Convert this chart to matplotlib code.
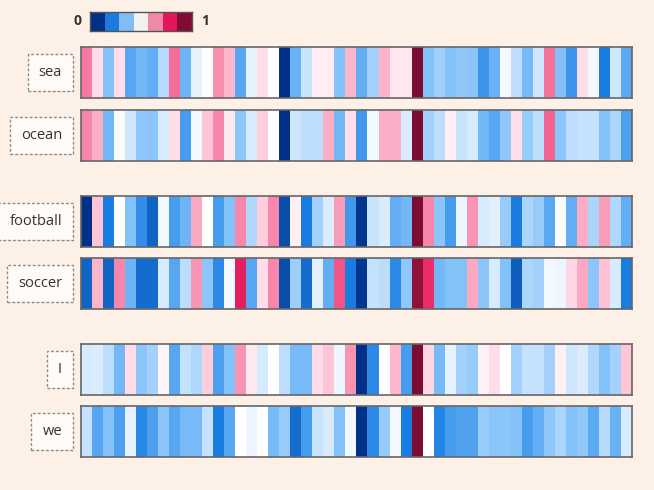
import numpy as np
import matplotlib
matplotlib.use("Agg")
import matplotlib.pyplot as plt
from matplotlib.colors import LinearSegmentedColormap, ListedColormap

# word vectors (50 dims, scaled 0..1)
words = ["sea", "ocean", "football", "soccer", "I", "we"]

sea = [0.78, 0.6, 0.3, 0.6, 0.22, 0.27, 0.24, 0.38, 0.8, 0.26,
       0.46, 0.5, 0.75, 0.68, 0.22, 0.46, 0.6, 0.5, 0.0, 0.25,
       0.41, 0.55, 0.55, 0.3, 0.69, 0.24, 0.35, 0.69, 0.57, 0.57,
       1.0, 0.3, 0.34, 0.3, 0.32, 0.31, 0.17, 0.25, 0.48, 0.39,
       0.28, 0.42, 0.79, 0.3, 0.17, 0.59, 0.48, 0.1, 0.42, 0.23]
ocean = [0.76, 0.7, 0.27, 0.49, 0.42, 0.32, 0.31, 0.43, 0.59, 0.19,
         0.48, 0.65, 0.76, 0.56, 0.31, 0.43, 0.63, 0.5, 0.0, 0.42,
         0.39, 0.39, 0.7, 0.27, 0.59, 0.18, 0.48, 0.7, 0.7, 0.44,
         1.0, 0.35, 0.39, 0.55, 0.41, 0.43, 0.27, 0.22, 0.32, 0.59,
         0.33, 0.39, 0.81, 0.31, 0.39, 0.4, 0.4, 0.3, 0.36, 0.2]
football = [0.0, 0.65, 0.1, 0.5, 0.3, 0.15, 0.07, 0.48, 0.19, 0.26,
            0.71, 0.5, 0.19, 0.3, 0.76, 0.37, 0.63, 0.76, 0.04, 0.54,
            0.1, 0.35, 0.44, 0.73, 0.18, 0.01, 0.41, 0.44, 0.24, 0.27,
            1.0, 0.76, 0.31, 0.19, 0.47, 0.74, 0.43, 0.45, 0.33, 0.1,
            0.36, 0.33, 0.23, 0.49, 0.24, 0.7, 0.36, 0.73, 0.37, 0.24]
soccer = [0.07, 0.69, 0.07, 0.76, 0.26, 0.08, 0.08, 0.43, 0.22, 0.39,
          0.74, 0.31, 0.14, 0.48, 0.9, 0.22, 0.59, 0.76, 0.04, 0.34,
          0.08, 0.45, 0.24, 0.83, 0.1, 0.01, 0.4, 0.39, 0.14, 0.32,
          0.98, 0.88, 0.27, 0.3, 0.3, 0.71, 0.31, 0.43, 0.3, 0.06,
          0.36, 0.35, 0.48, 0.47, 0.61, 0.71, 0.31, 0.66, 0.43, 0.1]
i_vec = [0.43, 0.44, 0.39, 0.27, 0.6, 0.31, 0.35, 0.53, 0.22, 0.4,
         0.37, 0.63, 0.2, 0.3, 0.74, 0.56, 0.43, 0.5, 0.39, 0.28,
         0.28, 0.6, 0.65, 0.47, 0.74, 0.0, 0.14, 0.5, 0.68, 0.19,
         1.0, 0.61, 0.28, 0.46, 0.35, 0.33, 0.54, 0.6, 0.5, 0.35,
         0.4, 0.4, 0.35, 0.54, 0.42, 0.44, 0.37, 0.3, 0.35, 0.65]
we = [0.4, 0.22, 0.3, 0.2, 0.46, 0.13, 0.2, 0.31, 0.22, 0.28,
      0.28, 0.4, 0.1, 0.22, 0.5, 0.47, 0.5, 0.28, 0.33, 0.08,
      0.19, 0.41, 0.43, 0.3, 0.48, 0.0, 0.14, 0.33, 0.48, 0.1,
      1.0, 0.5, 0.12, 0.19, 0.21, 0.21, 0.33, 0.31, 0.31, 0.3,
      0.19, 0.24, 0.32, 0.36, 0.3, 0.32, 0.23, 0.38, 0.25, 0.43]
vectors = [sea, ocean, football, soccer, i_vec, we]

legend_levels = [0, 1, 2, 3, 4, 5, 6]

plt.rcParams['font.family'] = ['Open Sans', 'DejaVu Sans']

bg = "#fdf0e6"
W, H = 654, 490

cmap = LinearSegmentedColormap.from_list("emb", [
    "#003087", "#1a7ee2", "#4ca0ef", "#85c2fa", "#c4e2fd", "#ffffff",
    "#ffdce8", "#fcb0c6", "#f56e98", "#e82060", "#7d0c33"])
bar_cmap = ListedColormap(["#003087", "#1a7ade", "#80bdf5", "#f2f2f2",
                           "#f088a8", "#e0185a", "#800c35"])


def px_axes(fig, x0, y0, x1, y1):
    return fig.add_axes([x0 / W, 1 - y1 / H, (x1 - x0) / W, (y1 - y0) / H])


fig = plt.figure(figsize=(W / 100, H / 100), dpi=100, facecolor=bg)

# colour legend
cax = px_axes(fig, 90, 12, 192, 31)
cax.imshow([legend_levels], cmap=bar_cmap, aspect="auto", vmin=0, vmax=6)
cax.set_xticks([])
cax.set_yticks([])
for s in cax.spines.values():
    s.set_color("#555555")
    s.set_linewidth(1)
fig.text(77 / W, 1 - 21 / H, "0", ha="center", va="center",
         fontsize=10, fontweight="bold", color="#333333")
fig.text(205 / W, 1 - 21 / H, "1", ha="center", va="center",
         fontsize=10, fontweight="bold", color="#333333")

tops = [47, 110, 196, 258, 344, 406]
for word, vec, top in zip(words, vectors, tops):
    ax = px_axes(fig, 81, top, 632, top + 51)
    ax.imshow([vec], cmap=cmap, vmin=0, vmax=1, aspect="auto",
              interpolation="nearest")
    ax.set_xticks([])
    ax.set_yticks([])
    for s in ax.spines.values():
        s.set_color("#666666")
        s.set_linewidth(1.2)
    yc = 1 - (top + 25.5) / H
    # faint shadow behind the label box
    fig.text(63.5 / W, yc - 1.5 / H, word, ha="right", va="center",
             fontsize=10.5, color=(0, 0, 0, 0),
             bbox=dict(boxstyle="square,pad=0.75", fc="#ddd3ca",
                       ec="none"))
    fig.text(62 / W, yc, word, ha="right", va="center", fontsize=10.5,
             color="#333333",
             bbox=dict(boxstyle="square,pad=0.75", fc="#fffaf6",
                       ec="#8a8a8a", ls=(0, (2, 1.5)), lw=1))

fig.savefig("out.png", dpi=100, facecolor=bg)
